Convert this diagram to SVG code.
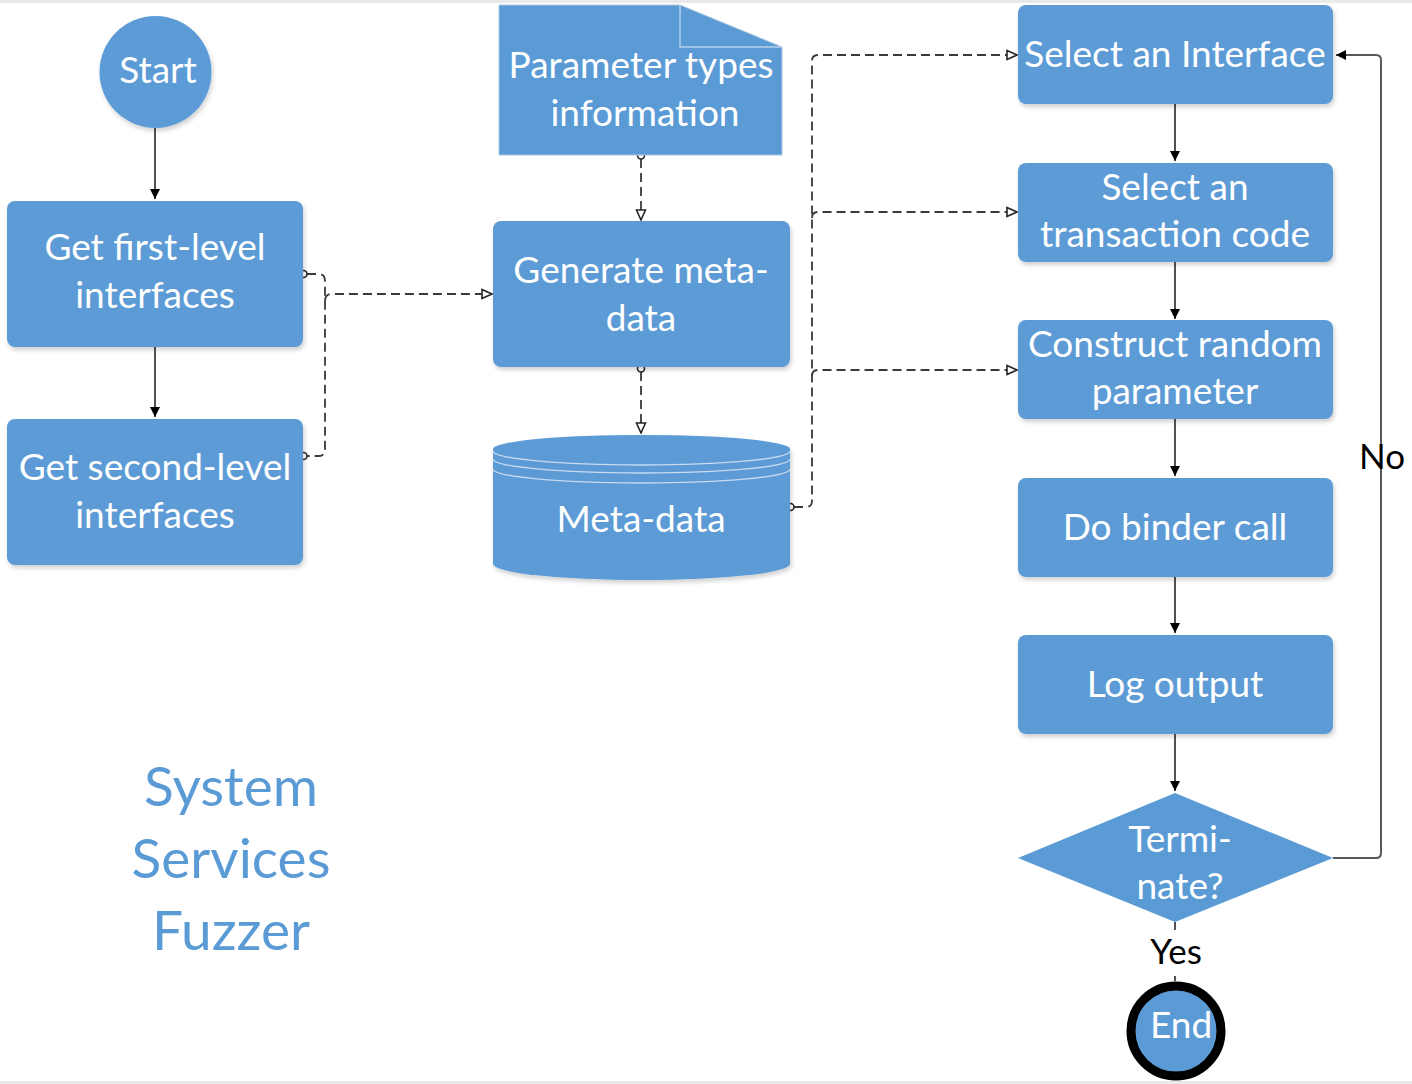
<svg xmlns="http://www.w3.org/2000/svg" width="1412" height="1084" viewBox="0 0 1412 1084">
<style>
  .shape { fill: #5b9bd5; }
  .lbl { font-family: Lato, "Open Sans", "Liberation Sans", sans-serif; font-size: 37px; fill: #ffffff; text-anchor: middle; }
  .blk { font-family: Lato, "Open Sans", "Liberation Sans", sans-serif; font-size: 35px; fill: #000000; text-anchor: middle; }
  .title { font-family: Lato, "Open Sans", "Liberation Sans", sans-serif; font-size: 55px; fill: #5b9bd5; text-anchor: middle; }
  .flow { fill: none; stroke: #262626; stroke-width: 1.6; }
  .dash { fill: none; stroke: #3a3a3a; stroke-width: 1.8; stroke-dasharray: 9 5; }
  .loop { fill: none; stroke: #595959; stroke-width: 2; }
  .dot { fill: #ffffff; stroke: #262626; stroke-width: 1.6; }
</style>
<defs>
  <filter id="sh" x="-10%" y="-10%" width="120%" height="130%">
    <feDropShadow dx="1.5" dy="3" stdDeviation="2" flood-color="#000" flood-opacity="0.18"/>
  </filter>
  <marker id="solid" viewBox="0 0 10 10" refX="10" refY="5" markerWidth="10" markerHeight="10" markerUnits="userSpaceOnUse" orient="auto">
    <path d="M0,0 L10,5 L0,10 Z" fill="#000"/>
  </marker>
  <marker id="hollow" viewBox="0 0 12 12" refX="11" refY="6" markerWidth="12" markerHeight="12" markerUnits="userSpaceOnUse" orient="auto">
    <path d="M1,1.5 L11,6 L1,10.5 Z" fill="#fff" stroke="#262626" stroke-width="1.6"/>
  </marker>
</defs>
<rect x="0" y="0" width="1412" height="1084" fill="#ffffff"/>
<rect x="0" y="0" width="1412" height="3" fill="#e9e9e9"/>
<rect x="0" y="1081" width="1412" height="3" fill="#e9e9e9"/>

<g id="connectors">
  <path class="flow" d="M155,128 V199" marker-end="url(#solid)"/>
  <path class="flow" d="M155,347 V417" marker-end="url(#solid)"/>
  <path class="flow" d="M1175,104 V161" marker-end="url(#solid)"/>
  <path class="flow" d="M1175,262 V319" marker-end="url(#solid)"/>
  <path class="flow" d="M1175,419 V476" marker-end="url(#solid)"/>
  <path class="flow" d="M1175,577 V633" marker-end="url(#solid)"/>
  <path class="flow" d="M1175,734 V791" marker-end="url(#solid)"/>
  <path class="flow" d="M1175,922 V930"/>
  <path class="flow" d="M1175,976 V981"/>
  <path class="loop" d="M1333,858 H1376 Q1381,858 1381,853 V60 Q1381,55 1376,55 H1336" marker-end="url(#solid)"/>
  <path class="dash" d="M307,274 H319 Q325,274 325,281 V449 Q325,456 319,456 H307"/>
  <path class="dash" d="M325,301 Q325,294 332,294 H492" marker-end="url(#hollow)"/>
  <circle class="dot" cx="303.5" cy="274" r="3.5"/>
  <circle class="dot" cx="303.5" cy="456" r="3.5"/>
  <path class="dash" d="M641,159 V220" marker-end="url(#hollow)"/>
  <circle class="dot" cx="641" cy="155.5" r="3.5"/>
  <path class="dash" d="M641,372 V433" marker-end="url(#hollow)"/>
  <circle class="dot" cx="641" cy="368.5" r="3.5"/>
  <path class="dash" d="M794,507 H806 Q812,507 812,501 V61 Q812,55 818,55 H1017" marker-end="url(#hollow)"/>
  <path class="dash" d="M812,218 Q812,212 818,212 H1017" marker-end="url(#hollow)"/>
  <path class="dash" d="M812,376 Q812,370 818,370 H1017" marker-end="url(#hollow)"/>
  <circle class="dot" cx="790.5" cy="507" r="3.5"/>
</g>

<g id="start">
  <circle class="shape" cx="155.5" cy="72" r="56" filter="url(#sh)"/>
  <text class="lbl" x="158" y="83">Start</text>
</g>

<g id="get-first">
  <rect class="shape" x="7" y="201" width="296" height="146" rx="8" filter="url(#sh)"/>
  <text class="lbl" x="155" y="260">Get first-level</text>
  <text class="lbl" x="155" y="308">interfaces</text>
</g>

<g id="get-second">
  <rect class="shape" x="7" y="419" width="296" height="146" rx="8" filter="url(#sh)"/>
  <text class="lbl" x="155" y="480">Get second-level</text>
  <text class="lbl" x="155" y="528">interfaces</text>
</g>

<g id="param-types">
  <path class="shape" d="M499,5 H680 L782,47 V155 H499 Z" stroke="#a9c4e2" stroke-width="1"/>
  <path d="M680,5 V47 H782" fill="none" stroke="#b7cfe8" stroke-width="1.5"/>
  <text class="lbl" x="641" y="78">Parameter types</text>
  <text class="lbl" x="645" y="126">information</text>
</g>

<g id="generate">
  <rect class="shape" x="493" y="221" width="297" height="146" rx="8" filter="url(#sh)"/>
  <text class="lbl" x="641" y="283">Generate meta-</text>
  <text class="lbl" x="641" y="331">data</text>
</g>

<g id="metadata">
  <path class="shape" d="M493,449 A148.5,14 0 0 1 790,449 V564 A148.5,16 0 0 1 493,564 Z" filter="url(#sh)"/>
  <path d="M493,451 A148.5,14 0 0 0 790,451" fill="none" stroke="#c9dbef" stroke-width="1.4"/>
  <path d="M493,459 A148.5,14 0 0 0 790,459" fill="none" stroke="#c9dbef" stroke-width="1.4"/>
  <path d="M493,469 A148.5,14 0 0 0 790,469" fill="none" stroke="#c9dbef" stroke-width="1.4"/>
  <text class="lbl" x="641" y="532">Meta-data</text>
</g>

<g id="select-interface">
  <rect class="shape" x="1018" y="5" width="315" height="99" rx="8" filter="url(#sh)"/>
  <text class="lbl" x="1175" y="67">Select an Interface</text>
</g>

<g id="select-code">
  <rect class="shape" x="1018" y="163" width="315" height="99" rx="8" filter="url(#sh)"/>
  <text class="lbl" x="1175" y="200">Select an</text>
  <text class="lbl" x="1175" y="247">transaction code</text>
</g>

<g id="construct">
  <rect class="shape" x="1018" y="320" width="315" height="99" rx="8" filter="url(#sh)"/>
  <text class="lbl" x="1175" y="357">Construct random</text>
  <text class="lbl" x="1175" y="404">parameter</text>
</g>

<g id="binder">
  <rect class="shape" x="1018" y="478" width="315" height="99" rx="8" filter="url(#sh)"/>
  <text class="lbl" x="1175" y="540">Do binder call</text>
</g>

<g id="log">
  <rect class="shape" x="1018" y="635" width="315" height="99" rx="8" filter="url(#sh)"/>
  <text class="lbl" x="1175" y="697">Log output</text>
</g>

<g id="terminate">
  <path class="shape" d="M1175,793 L1333,858 L1175,922 L1018,858 Z"/>
  <text class="lbl" x="1180" y="852">Termi-</text>
  <text class="lbl" x="1180" y="899">nate?</text>
</g>

<g id="labels">
  <text class="blk" x="1176" y="964">Yes</text>
  <text class="blk" x="1382" y="469">No</text>
</g>

<g id="end">
  <circle class="shape" cx="1176" cy="1031" r="45" stroke="#000" stroke-width="9"/>
  <text class="lbl" x="1181" y="1038">End</text>
</g>

<g id="title">
  <text class="title" x="231" y="806">System</text>
  <text class="title" x="231" y="878">Services</text>
  <text class="title" x="231" y="950">Fuzzer</text>
</g>
</svg>
